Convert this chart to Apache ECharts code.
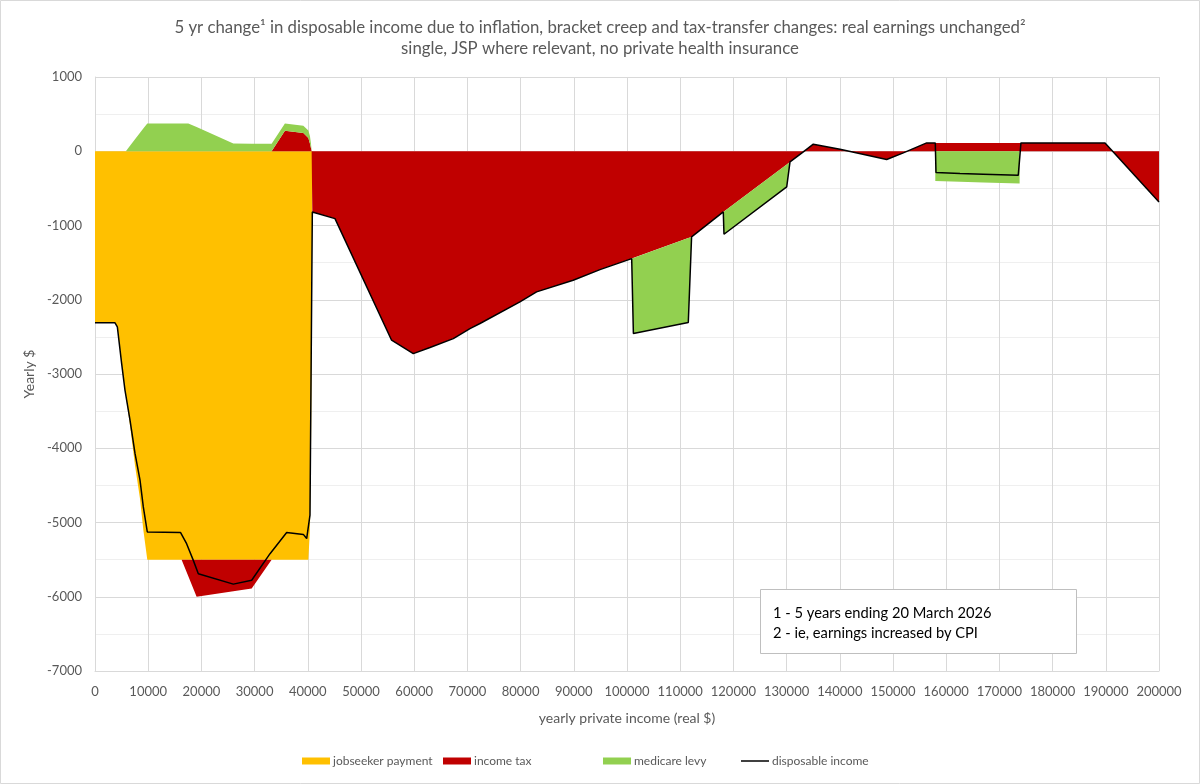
<!DOCTYPE html>
<html>
<head>
<meta charset="utf-8">
<script src="https://cdn.jsdelivr.net/npm/echarts@6/dist/echarts.min.js"></script>
<style>
  html, body { margin: 0; padding: 0; background: #fff; }
  #chart { width: 1200px; height: 784px; }
</style>
</head>
<body>
<div id="chart"></div>
<script>
// yearly private income points shared by the three stacked areas
var incomeX = [0, 3760, 4200, 5010, 5640, 5800, 5800, 6580, 7520, 8460, 9080, 9830, 16280, 17540, 19100, 26000,
  29450, 33200, 33200, 35700, 39160, 40100, 40400, 40600, 40720, 40850, 45110, 55750, 59830, 62970, 67350, 70480,
  72370, 79870, 83000, 89880, 94920, 100880, 101200, 111520, 112140, 118100, 118230, 130020, 130640, 133140,
  135020, 140040, 148810, 151940, 156330, 157950, 157950, 162590, 166970, 173800, 173800, 189850, 191410, 200000];

var jobseekerPayment = [-2310, -2310, -2365, -2860, -3220, -3290, -3290, -3693, -4231, -4679, -5098, -5500, -5500, -5500,
  -5500, -5500, -5500, -5500, -5500, -5500, -5500, -5500, -5100, -4000, -2900, 0, 0, 0, 0, 0, 0, 0,
  0, 0, 0, 0, 0, 0, 0, 0, 0, 0, 0, 0, 0, 0,
  0, 0, 0, 0, 0, 0, 0, 0, 0, 0, 0, 0, 0, 0];

var incomeTax = [0, 0, 0, 0, 0, 0, 0, 0, 0, 0, 0, 0, 0, -225, -500, -427,
  -390, 0, 1, 275, 245, 180, 104, 40, 1, -817, -907, -2545, -2725, -2643, -2523, -2388,
  -2320, -2029, -1894, -1737, -1594, -1446, -1438, -1170, -1154, -817, -810, -177, -144, -9,
  95, 27, -112, -22, 112, 112, 112, 112, 112, 112, 112, 112, -9, -683];

var medicareLevy = [0, 0, 0, 0, 0, 0, 1, 73, 161, 249, 308, 375, 375, 375, 325, 104,
  102, 100, 100, 100, 100, 100, 100, 60, 1, 0, 0, 0, 0, 0, 0, 0,
  0, 0, 0, 0, 0, 0, -1017, -1136, 0, 0, -308, -303, 0, 0,
  0, 0, 0, 0, 0, 0, -400, -412, -421, -434, 0, 0, 0, 0];

// disposable income line
var dispX = [0, 3760, 4200, 5010, 5640, 6580, 7520, 8460, 9080, 9830, 16090, 17220, 18480, 19420, 26000, 29450,
  32900, 36030, 39160, 39790, 40410, 40850, 45110, 55750, 59830, 62970, 67350, 70480, 72370, 79870, 83000,
  89880, 94920, 100880, 101200, 111520, 112140, 118100, 118230, 130020, 130640, 133140, 135020, 140040,
  148810, 151940, 156330, 157950, 158080, 162590, 166970, 173550, 174050, 189850, 191410, 200000];
var dispY = [-2310, -2310, -2365, -2860, -3220, -3620, -4070, -4430, -4790, -5127, -5135, -5285, -5510, -5690, -5830, -5778,
  -5420, -5135, -5160, -5216, -4900, -817, -907, -2545, -2725, -2643, -2523, -2388, -2320, -2029, -1894,
  -1737, -1594, -1446, -2455, -2306, -1154, -817, -1118, -480, -144, -9, 95, 27,
  -112, -22, 112, 112, -287, -300, -309, -322, 112, 112, -9, -683];

var font = "Lato";
var grey = "#595959";

function stacked(vals) {
  return vals.map(function (v, i) { return [v, incomeX[i]]; });
}

function areaSeries(name, vals, color) {
  return {
    name: name,
    type: "line",
    stack: "total",
    encode: { x: 1, y: 0 },
    data: stacked(vals),
    symbol: "none",
    color: color,
    lineStyle: { width: 0 },
    areaStyle: { color: color, opacity: 1 }
  };
}

function legendAt(left, item, h) {
  return {
    left: left,
    top: 750,
    itemWidth: 28,
    itemHeight: h,
    itemGap: 4,
    textStyle: { fontFamily: font, fontSize: 12, color: grey, padding: [0, 0, 0, -2] },
    data: [item]
  };
}

var myChart = echarts.init(document.getElementById("chart"));
var option = {
  animation: false,
  backgroundColor: "#fff",
  title: {
    text: "5 yr change¹ in disposable income due to inflation, bracket creep and tax-transfer changes: real earnings unchanged²\nsingle, JSP where relevant, no private health insurance",
    left: "center",
    top: 12,
    textStyle: { fontFamily: font, fontSize: 16.8, fontWeight: "normal", color: grey, lineHeight: 21 }
  },
  legend: [
    legendAt(297, { name: "jobseeker payment", icon: "rect" }, 7),
    legendAt(438, { name: "income tax", icon: "rect" }, 7),
    legendAt(598, { name: "medicare levy", icon: "rect" }, 7),
    legendAt(736, { name: "disposable income", icon: "rect" }, 1.5)
  ],
  grid: { left: 95, right: 41, top: 77, bottom: 113, containLabel: false },
  xAxis: {
    type: "value",
    min: 0,
    max: 200000,
    interval: 10000,
    name: "yearly private income (real $)",
    nameLocation: "middle",
    nameGap: 40,
    nameTextStyle: { fontFamily: font, fontSize: 14, color: grey },
    axisLine: { onZero: false, lineStyle: { color: "#d9d9d9" } },
    axisTick: { show: false },
    axisLabel: {
      margin: 14,
      fontFamily: font, fontSize: 13, color: grey,
      formatter: function (v) { return String(v); }
    },
    splitLine: { show: true, lineStyle: { color: "#d9d9d9" } }
  },
  yAxis: {
    type: "value",
    min: -7000,
    max: 1000,
    interval: 1000,
    name: "Yearly $",
    nameLocation: "middle",
    nameGap: 38,
    nameTextStyle: { fontFamily: font, fontSize: 14, color: grey },
    axisLine: { show: true, lineStyle: { color: "#d9d9d9" } },
    axisTick: { show: false },
    axisLabel: {
      margin: 13,
      fontFamily: font, fontSize: 13, color: grey,
      formatter: function (v) { return String(v); }
    },
    splitLine: { show: true, lineStyle: { color: "#d9d9d9" } },
    minorTick: { show: false, splitNumber: 2 },
    minorSplitLine: { show: true, lineStyle: { color: "#efefef" } }
  },
  graphic: [
    {
      type: "rect", z: 100,
      shape: { x: 0.5, y: 0.5, width: 1199, height: 783 },
      style: { fill: "none", stroke: "#d9d9d9", lineWidth: 1 }
    },
    {
      type: "rect", z: 100,
      shape: { x: 760.5, y: 589.5, width: 316, height: 64 },
      style: { fill: "#fff", stroke: "#bfbfbf", lineWidth: 1 }
    },
    {
      type: "text", z: 101,
      x: 773, y: 603,
      style: {
        text: "1 - 5 years ending 20 March 2026\n2 - ie, earnings increased by CPI",
        font: "14.7px Lato",
        fill: "#000",
        lineHeight: 20
      }
    }
  ],
  series: [
    areaSeries("jobseeker payment", jobseekerPayment, "#FFC000"),
    areaSeries("income tax", incomeTax, "#C00000"),
    areaSeries("medicare levy", medicareLevy, "#92D050"),
    {
      name: "disposable income",
      type: "line",
      data: dispX.map(function (x, i) { return [x, dispY[i]]; }),
      symbol: "none",
      color: "#000",
      lineStyle: { color: "#000", width: 1.5 },
      z: 5
    }
  ]
};
myChart.setOption(option, true);
</script>
</body>
</html>
